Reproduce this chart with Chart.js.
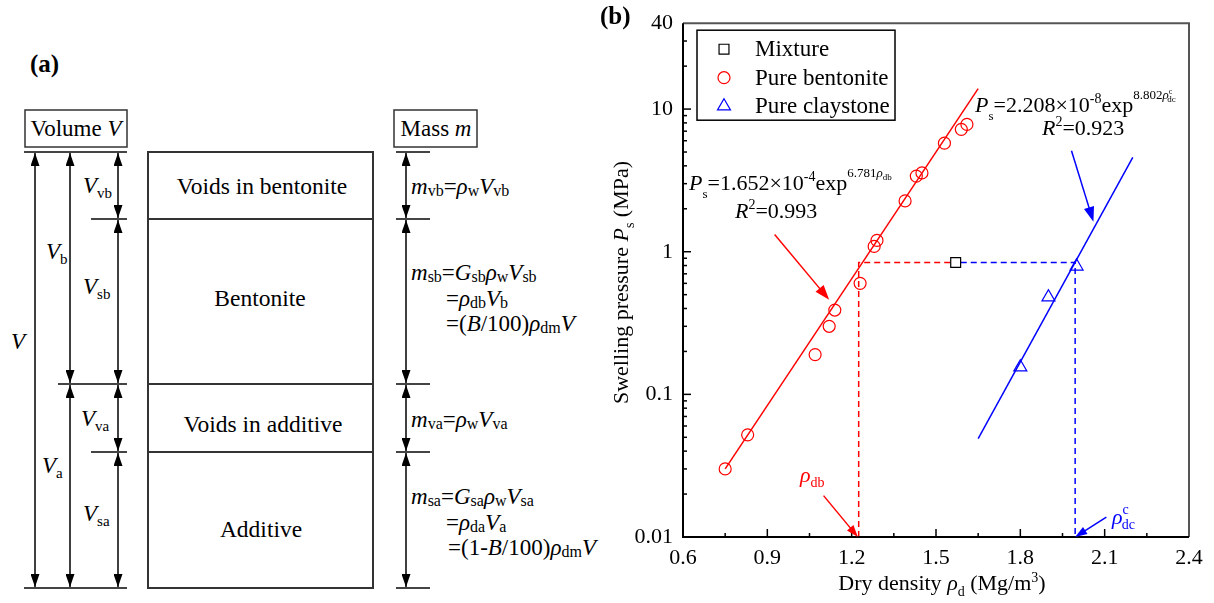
<!DOCTYPE html>
<html>
<head>
<meta charset="utf-8">
<script src="https://cdn.jsdelivr.net/npm/chart.js@4/dist/chart.umd.min.js"></script>
<style>
  body { margin: 0; background: #fff; }
  #page { position: relative; width: 1214px; height: 603px; overflow: hidden;
          font-family: "Liberation Serif", "Tinos", "DejaVu Serif", serif; color: #000; }
  #c { position: absolute; left: 600px; top: 0; }
  svg text { font-family: "Liberation Serif", "Tinos", "DejaVu Serif", serif; }
  .t { position: absolute; white-space: nowrap; font-size: 22px; line-height: 22px; }
  .i { font-style: italic; }
  .lo { position: relative; top: 8px; font-size: 13px; }
  .hi { position: relative; top: -9px; font-size: 14px; }
  .ex { position: relative; top: -13px; font-size: 13px; }
  .tiny { position: relative; top: 3px; font-size: 9px; }
</style>
</head>
<body>
<div id="page">

<svg width="600" height="603" style="position:absolute;left:0;top:0" font-size="23">
  <defs>
    <marker id="ah" viewBox="0 0 13 9" refX="13" refY="4.5" markerWidth="13" markerHeight="9"
            markerUnits="userSpaceOnUse" orient="auto-start-reverse">
      <path d="M0,0 L13,4.5 L0,9 z" fill="#000"/>
    </marker>
  </defs>
  <text x="30" y="72" font-size="25" font-weight="bold">(a)</text>

  <rect x="25" y="110" width="102" height="37" fill="none" stroke="#333" stroke-width="1.5"/>
  <text x="76" y="136" text-anchor="middle">Volume <tspan font-style="italic">V</tspan></text>
  <rect x="394" y="110" width="83" height="37" fill="none" stroke="#333" stroke-width="1.5"/>
  <text x="436" y="136" text-anchor="middle">Mass <tspan font-style="italic">m</tspan></text>

  <g stroke="#444" stroke-width="2">
    <line x1="24" y1="152" x2="127" y2="152"/>
    <line x1="91" y1="219" x2="127" y2="219"/>
    <line x1="58" y1="384" x2="127" y2="384"/>
    <line x1="91" y1="452" x2="127" y2="452"/>
    <line x1="24" y1="588" x2="127" y2="588"/>
    <line x1="396" y1="152" x2="430" y2="152"/>
    <line x1="396" y1="219" x2="430" y2="219"/>
    <line x1="396" y1="384" x2="430" y2="384"/>
    <line x1="396" y1="452" x2="430" y2="452"/>
    <line x1="396" y1="588" x2="430" y2="588"/>
  </g>
  <g stroke="#333" stroke-width="2" fill="none">
    <rect x="148" y="152" width="225" height="436"/>
    <line x1="148" y1="219" x2="373" y2="219"/>
    <line x1="148" y1="384" x2="373" y2="384"/>
    <line x1="148" y1="452" x2="373" y2="452"/>
  </g>
  <g stroke="#000" stroke-width="1.5" marker-start="url(#ah)" marker-end="url(#ah)">
    <line x1="35" y1="153" x2="35" y2="587"/>
    <line x1="70" y1="153" x2="70" y2="383"/>
    <line x1="70" y1="385" x2="70" y2="587"/>
    <line x1="118" y1="153" x2="118" y2="218"/>
    <line x1="118" y1="220" x2="118" y2="383"/>
    <line x1="118" y1="385" x2="118" y2="451"/>
    <line x1="118" y1="453" x2="118" y2="587"/>
    <line x1="406" y1="153" x2="406" y2="218"/>
    <line x1="406" y1="220" x2="406" y2="383"/>
    <line x1="406" y1="385" x2="406" y2="451"/>
    <line x1="406" y1="453" x2="406" y2="587"/>
  </g>

  <text x="262" y="194" text-anchor="middle" font-size="23.5">Voids in bentonite</text>
  <text x="260" y="306" text-anchor="middle" font-size="23.5">Bentonite</text>
  <text x="263" y="432" text-anchor="middle" font-size="23.5">Voids in additive</text>
  <text x="261" y="537" text-anchor="middle" font-size="23.5">Additive</text>

  <text x="83" y="193"><tspan font-style="italic">V</tspan><tspan font-size="15" dy="5">vb</tspan></text>
  <text x="46" y="259"><tspan font-style="italic">V</tspan><tspan font-size="15" dy="5">b</tspan></text>
  <text x="83" y="294"><tspan font-style="italic">V</tspan><tspan font-size="15" dy="5">sb</tspan></text>
  <text x="11" y="349" font-style="italic">V</text>
  <text x="81" y="426"><tspan font-style="italic">V</tspan><tspan font-size="15" dy="5">va</tspan></text>
  <text x="42" y="473"><tspan font-style="italic">V</tspan><tspan font-size="15" dy="5">a</tspan></text>
  <text x="83" y="521"><tspan font-style="italic">V</tspan><tspan font-size="15" dy="5">sa</tspan></text>

  <text x="411" y="194"><tspan font-style="italic">m</tspan><tspan font-size="16" dy="2">vb</tspan><tspan dy="-2">=</tspan><tspan font-style="italic">ρ</tspan><tspan font-size="16" dy="2">w</tspan><tspan dy="-2" font-style="italic">V</tspan><tspan font-size="16" dy="2">vb</tspan></text>
  <text x="411" y="280"><tspan font-style="italic">m</tspan><tspan font-size="16" dy="2">sb</tspan><tspan dy="-2">=</tspan><tspan font-style="italic">G</tspan><tspan font-size="16" dy="2">sb</tspan><tspan dy="-2" font-style="italic">ρ</tspan><tspan font-size="16" dy="2">w</tspan><tspan dy="-2" font-style="italic">V</tspan><tspan font-size="16" dy="2">sb</tspan></text>
  <text x="446" y="306">=<tspan font-style="italic">ρ</tspan><tspan font-size="16" dy="2">db</tspan><tspan dy="-2" font-style="italic">V</tspan><tspan font-size="16" dy="2">b</tspan></text>
  <text x="446" y="331">=(<tspan font-style="italic">B</tspan>/100)<tspan font-style="italic">ρ</tspan><tspan font-size="16" dy="2">dm</tspan><tspan dy="-2" font-style="italic">V</tspan></text>

  <text x="411" y="427"><tspan font-style="italic">m</tspan><tspan font-size="16" dy="2">va</tspan><tspan dy="-2">=</tspan><tspan font-style="italic">ρ</tspan><tspan font-size="16" dy="2">w</tspan><tspan dy="-2" font-style="italic">V</tspan><tspan font-size="16" dy="2">va</tspan></text>
  <text x="411" y="504"><tspan font-style="italic">m</tspan><tspan font-size="16" dy="2">sa</tspan><tspan dy="-2">=</tspan><tspan font-style="italic">G</tspan><tspan font-size="16" dy="2">sa</tspan><tspan dy="-2" font-style="italic">ρ</tspan><tspan font-size="16" dy="2">w</tspan><tspan dy="-2" font-style="italic">V</tspan><tspan font-size="16" dy="2">sa</tspan></text>
  <text x="446" y="530">=<tspan font-style="italic">ρ</tspan><tspan font-size="16" dy="2">da</tspan><tspan dy="-2" font-style="italic">V</tspan><tspan font-size="16" dy="2">a</tspan></text>
  <text x="448" y="555">=(1-<tspan font-style="italic">B</tspan>/100)<tspan font-style="italic">ρ</tspan><tspan font-size="16" dy="2">dm</tspan><tspan dy="-2" font-style="italic">V</tspan></text>
</svg>

<canvas id="c" width="614" height="603"></canvas>

<div class="t" style="left:600px;top:3px;font-size:25px;line-height:25px;font-weight:bold">(b)</div>

<div class="t" style="left:689px;top:172px"><span class="i">P</span><span class="lo">s</span>=1.652×10<span class="hi">-4</span>exp<span class="ex">6.781<span class="i">ρ</span><span class="tiny">db</span></span></div>
<div class="t" style="left:735px;top:200px"><span class="i">R</span><span class="hi">2</span>=0.993</div>

<div class="t" style="left:975px;top:94px"><span class="i">P</span><span class="lo">s</span>=2.208×10<span class="hi">-8</span>exp<span class="ex">8.802<span class="i">ρ</span><span style="position:relative;top:-5px;font-size:8px">c</span><span class="tiny" style="margin-left:-5px">dc</span></span></div>
<div class="t" style="left:1042px;top:117px"><span class="i">R</span><span class="hi">2</span>=0.923</div>

<div class="t" style="left:800px;top:464px;color:#ff0000"><span class="i">ρ</span><span style="position:relative;top:5px;font-size:14px">db</span></div>
<div class="t" style="left:1112px;top:506px;color:#0000ff"><span class="i">ρ</span><span style="position:relative;top:-10px;font-size:14px">c</span><span style="position:relative;top:5px;font-size:14px;margin-left:-7px">dc</span></div>

<div class="t" style="left:792px;top:572px;width:300px;text-align:center">Dry density <span class="i">ρ</span><span style="position:relative;top:6px;font-size:14px">d</span> (Mg/m<span style="position:relative;top:-8px;font-size:14px">3</span>)</div>
<div class="t" style="left:482px;top:270px;width:280px;text-align:center;transform:rotate(-90deg);transform-origin:50% 50%">Swelling pressure <span class="i">P</span><span style="position:relative;top:6px;font-size:14px">s</span> (MPa)</div>

</div>

<script>
// measured values
const mixtureX = [1.57];
const mixtureY = [0.84];
const bentoniteX = [0.75, 0.83, 1.07, 1.12, 1.14, 1.23, 1.28, 1.29, 1.39, 1.43, 1.45, 1.53, 1.59, 1.61];
const bentoniteY = [0.030, 0.052, 0.19, 0.30, 0.39, 0.60, 1.09, 1.20, 2.27, 3.39, 3.57, 5.77, 7.21, 7.81];
const claystoneX = [1.80, 1.90, 2.00];
const claystoneY = [0.155, 0.48, 0.79];

// fitted lines (end points)
const bentoniteFitX = [0.75, 1.65];
const bentoniteFitY = [0.030, 13.9];
const claystoneFitX = [1.65, 2.20];
const claystoneFitY = [0.049, 4.59];

// dashed guide lines
const redGuideX = [1.225, 1.225, 1.552];
const redGuideY = [0.01, 0.84, 0.84];
const blueGuideX = [1.588, 1.995, 1.995];
const blueGuideY = [0.84, 0.84, 0.01];

// axis ticks
const xTicks = [0.6, 0.9, 1.2, 1.5, 1.8, 2.1, 2.4];
const xMinorTicks = [0.75, 1.05, 1.35, 1.65, 1.95, 2.25];
const yTicks = [0.01, 0.1, 1, 10, 40];
const yTickLabels = ["0.01", "0.1", "1", "10", "40"];
const yMinorTicks = [0.02, 0.03, 0.04, 0.05, 0.06, 0.07, 0.08, 0.09,
                     0.2, 0.3, 0.4, 0.5, 0.6, 0.7, 0.8, 0.9,
                     2, 3, 4, 5, 6, 7, 8, 9, 20, 30];

// annotation arrows [from, to] in data units
const arrows = [
  { from: [0.926, 1.32], to: [1.12, 0.46], color: "#ff0000", head: 15 },
  { from: [1.982, 5.1], to: [2.06, 1.62], color: "#0000ff", head: 15 },
  { from: [1.10, 0.0195], to: [1.222, 0.01], color: "#ff0000", head: 12 },
  { from: [2.106, 0.0138], to: [1.995, 0.01], color: "#0000ff", head: 12 },
];

const FONT = '"Liberation Serif", "Tinos", "DejaVu Serif", serif';
const pts = (xs, ys) => xs.map((x, i) => ({ x: x, y: ys[i] }));

function drawArrow(ctx, x0, y0, x1, y1, color, len) {
  const ang = Math.atan2(y1 - y0, x1 - x0);
  const w = len * 0.35;
  ctx.strokeStyle = color;
  ctx.fillStyle = color;
  ctx.lineWidth = 1.5;
  ctx.beginPath();
  ctx.moveTo(x0, y0);
  ctx.lineTo(x1 - Math.cos(ang) * len * 0.8, y1 - Math.sin(ang) * len * 0.8);
  ctx.stroke();
  ctx.beginPath();
  ctx.moveTo(x1, y1);
  ctx.lineTo(x1 - Math.cos(ang) * len - Math.sin(ang) * w, y1 - Math.sin(ang) * len + Math.cos(ang) * w);
  ctx.lineTo(x1 - Math.cos(ang) * len + Math.sin(ang) * w, y1 - Math.sin(ang) * len - Math.cos(ang) * w);
  ctx.closePath();
  ctx.fill();
}

const overlay = {
  id: "overlay",
  afterDraw(chart) {
    const ctx = chart.ctx;
    const a = chart.chartArea;
    const x = chart.scales.x;
    const y = chart.scales.y;
    ctx.save();

    // inward ticks
    ctx.strokeStyle = "#000";
    ctx.lineWidth = 1.5;
    const tick = (x0, y0, x1, y1) => {
      ctx.beginPath(); ctx.moveTo(x0, y0); ctx.lineTo(x1, y1); ctx.stroke();
    };
    xTicks.slice(1, -1).forEach((v) => { const p = x.getPixelForValue(v); tick(p, a.bottom, p, a.bottom - 8); });
    xMinorTicks.forEach((v) => { const p = x.getPixelForValue(v); tick(p, a.bottom, p, a.bottom - 4); });
    yTicks.slice(1, -1).forEach((v) => { const p = y.getPixelForValue(v); tick(a.left, p, a.left + 8, p); });
    yMinorTicks.forEach((v) => { const p = y.getPixelForValue(v); tick(a.left, p, a.left + 4, p); });

    // frame
    ctx.lineWidth = 2;
    ctx.strokeStyle = "#555";
    ctx.beginPath();
    ctx.moveTo(a.left, a.top); ctx.lineTo(a.right, a.top); ctx.lineTo(a.right, a.bottom);
    ctx.stroke();
    ctx.strokeStyle = "#000";
    ctx.beginPath();
    ctx.moveTo(a.left, a.top); ctx.lineTo(a.left, a.bottom); ctx.lineTo(a.right, a.bottom);
    ctx.stroke();

    // arrows
    arrows.forEach((ar) => {
      drawArrow(ctx,
        x.getPixelForValue(ar.from[0]), y.getPixelForValue(ar.from[1]),
        x.getPixelForValue(ar.to[0]), y.getPixelForValue(ar.to[1]),
        ar.color, ar.head);
    });

    // legend box
    const lx = a.left + 14, ly = a.top + 7;
    ctx.lineWidth = 1.5;
    ctx.strokeStyle = "#000";
    ctx.strokeRect(lx, ly, 198, 90);
    ctx.font = "23px " + FONT;
    ctx.textBaseline = "middle";
    chart.data.datasets.slice(0, 3).forEach((ds, i) => {
      const cy = ly + 19 + i * 28.5;
      const cx = lx + 27;
      ctx.strokeStyle = ds.borderColor;
      ctx.fillStyle = "rgba(0,0,0,0)";
      ctx.lineWidth = ds.borderWidth;
      Chart.helpers.drawPoint(ctx, { pointStyle: ds.pointStyle, radius: ds.pointRadius, rotation: 0, borderWidth: ds.borderWidth }, cx, cy);
      ctx.fillStyle = "#000";
      ctx.fillText(ds.label, lx + 58, cy + 1);
    });
    ctx.restore();
  },
};

new Chart(document.getElementById("c"), {
  type: "scatter",
  data: {
    datasets: [
      { label: "Mixture", data: pts(mixtureX, mixtureY), pointStyle: "rect", pointRadius: 7,
        borderColor: "#000", backgroundColor: "rgba(0,0,0,0)", borderWidth: 1.2 },
      { label: "Pure bentonite", data: pts(bentoniteX, bentoniteY), pointStyle: "circle", pointRadius: 6,
        borderColor: "#ff0000", backgroundColor: "rgba(0,0,0,0)", borderWidth: 1.2 },
      { label: "Pure claystone", data: pts(claystoneX, claystoneY), pointStyle: "triangle", pointRadius: 7.5,
        borderColor: "#0000ff", backgroundColor: "rgba(0,0,0,0)", borderWidth: 1.2 },
      { label: "Bentonite fit", data: pts(bentoniteFitX, bentoniteFitY), showLine: true, pointRadius: 0,
        borderColor: "#ff0000", borderWidth: 1.5 },
      { label: "Claystone fit", data: pts(claystoneFitX, claystoneFitY), showLine: true, pointRadius: 0,
        borderColor: "#0000ff", borderWidth: 1.5 },
      { label: "Red guide", data: pts(redGuideX, redGuideY), showLine: true, pointRadius: 0,
        borderColor: "#ff0000", borderWidth: 1.5, borderDash: [6, 4] },
      { label: "Blue guide", data: pts(blueGuideX, blueGuideY), showLine: true, pointRadius: 0,
        borderColor: "#0000ff", borderWidth: 1.5, borderDash: [6, 4] },
    ],
  },
  options: {
    responsive: false,
    animation: false,
    devicePixelRatio: 1,
    layout: { padding: { top: 17, right: 25, left: 0, bottom: 0 } },
    plugins: { legend: { display: false }, tooltip: { enabled: false } },
    scales: {
      x: {
        type: "linear", min: 0.6, max: 2.4,
        grid: { display: false, drawTicks: false },
        border: { display: false },
        afterBuildTicks: (s) => { s.ticks = xTicks.map((v) => ({ value: v })); },
        afterFit: (s) => { s.height = 66; },
        ticks: { font: { family: FONT, size: 22 }, color: "#000", padding: 8, maxRotation: 0,
                 autoSkip: false, callback: (v) => Number(v).toFixed(1) },
      },
      y: {
        type: "logarithmic", min: 0.01, max: 40,
        grid: { display: false, drawTicks: false },
        border: { display: false },
        afterBuildTicks: (s) => { s.ticks = yTicks.map((v) => ({ value: v })); },
        afterFit: (s) => { s.width = 83; },
        ticks: { font: { family: FONT, size: 22 }, color: "#000", padding: 10,
                 autoSkip: false, callback: (v, i) => yTickLabels[i] },
      },
    },
  },
  plugins: [overlay],
});
</script>
</body>
</html>
